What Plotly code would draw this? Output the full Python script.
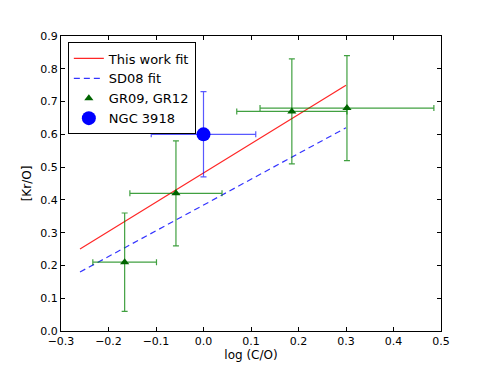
import plotly.graph_objects as go

# fit lines
fit_x = [-0.26, 0.30]
this_work_y = [0.25, 0.75]
sd08_y = [0.18, 0.62]

# GR09, GR12 points
gr_x = [-0.166, -0.058, 0.186, 0.302]
gr_y = [0.21, 0.42, 0.67, 0.68]
gr_xerr = [0.067, 0.097, 0.116, 0.183]
gr_yerr = [0.15, 0.16, 0.16, 0.16]

# NGC 3918
ngc_x = [0.0]
ngc_y = [0.60]
ngc_xerr = [0.11]
ngc_yerr = [0.13]

fig = go.Figure()

fig.add_trace(go.Scatter(x=fit_x, y=this_work_y, mode='lines', name='This work fit',
                         line=dict(color='rgba(255,0,0,0.85)', width=1.2)))
fig.add_trace(go.Scatter(x=fit_x, y=sd08_y, mode='lines', name='SD08 fit',
                         line=dict(color='rgba(0,0,255,0.8)', width=1.2, dash='6px,4px')))
fig.add_trace(go.Scatter(x=gr_x, y=gr_y, mode='markers', name='GR09, GR12',
                         marker=dict(symbol='triangle-up', size=8, color='#006400'),
                         error_x=dict(type='data', array=gr_xerr, color='rgba(0,128,0,0.75)',
                                      thickness=1.2, width=3),
                         error_y=dict(type='data', array=gr_yerr, color='rgba(0,128,0,0.75)',
                                      thickness=1.2, width=3)))
fig.add_trace(go.Scatter(x=ngc_x, y=ngc_y, mode='markers', name='NGC 3918',
                         marker=dict(symbol='circle', size=14, color='#0000ff'),
                         error_x=dict(type='data', array=ngc_xerr, color='rgba(0,0,255,0.65)',
                                      thickness=1.2, width=3),
                         error_y=dict(type='data', array=ngc_yerr, color='rgba(0,0,255,0.65)',
                                      thickness=1.2, width=3)))

axis_style = dict(showgrid=False, zeroline=False, showline=True, linecolor='black',
                  linewidth=1, mirror='allticks', ticks='inside', ticklen=4,
                  tickcolor='black', tickfont=dict(size=11, color='black'))

fig.update_xaxes(range=[-0.3, 0.5], dtick=0.1, tick0=-0.3, tickformat='.1f',
                 title=dict(text='log (C/O)', font=dict(size=12, color='black'), standoff=3),
                 **axis_style)
fig.update_yaxes(range=[0.0, 0.9], dtick=0.1, tick0=0, tickformat='.1f',
                 title=dict(text='[Kr/O]', font=dict(size=12, color='black'), standoff=6),
                 **axis_style)

# page body adds an 8px offset, so margins are shifted to compensate
fig.update_layout(
    width=491, height=368,
    margin=dict(l=53, r=58, t=28, b=45),
    plot_bgcolor='white', paper_bgcolor='white',
    font=dict(family='DejaVu Sans', color='black'),
    legend=dict(x=0.018, y=0.978, xanchor='left', yanchor='top',
                bgcolor='white', bordercolor='black', borderwidth=1,
                font=dict(size=13), itemwidth=30, tracegroupgap=0),
    showlegend=True,
)

fig.write_html("out.html")
